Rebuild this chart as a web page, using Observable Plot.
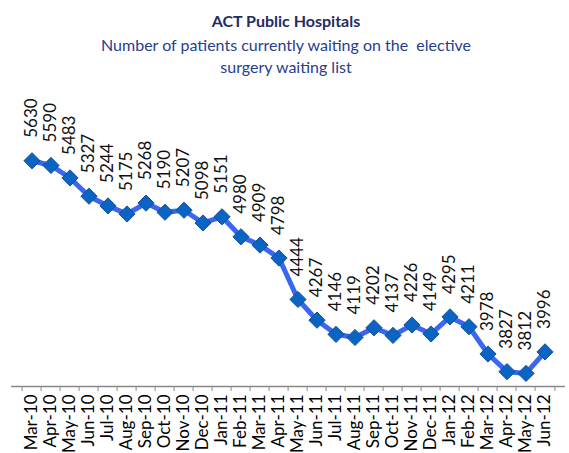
<!DOCTYPE html>
<html><head><meta charset="utf-8">
<script src="https://cdn.jsdelivr.net/npm/d3@7"></script>
<script src="https://cdn.jsdelivr.net/npm/@observablehq/plot@0.6"></script>
<style>
body{margin:0;background:#fff;font-family:Lato,sans-serif;}
#wrap{width:569px;height:453px;overflow:hidden;background:#fff;}
#hdr{height:80px;text-align:center;}
#hdr .t{padding-top:10px;line-height:22px;font-size:16px;font-weight:bold;color:#1f2d63;padding-left:3px;}
#hdr .s{margin-top:2px;line-height:22px;font-size:16px;color:#25408f;padding-left:3px;}
</style></head><body>
<div id="wrap">
<div id="hdr">
 <div class="t">ACT Public Hospitals</div>
 <div class="s">Number of patients currently waiting on the&nbsp; elective<br>surgery waiting list</div>
</div>
<div id="chart"></div>
</div>
<script>
const months = ["Mar-10","Apr-10","May-10","Jun-10","Jul-10","Aug-10","Sep-10","Oct-10","Nov-10","Dec-10",
"Jan-11","Feb-11","Mar-11","Apr-11","May-11","Jun-11","Jul-11","Aug-11","Sep-11","Oct-11","Nov-11","Dec-11",
"Jan-12","Feb-12","Mar-12","Apr-12","May-12","Jun-12"];
const values = [5630,5590,5483,5327,5244,5175,5268,5190,5207,5098,
5151,4980,4909,4798,4444,4267,4146,4119,4202,4137,4226,4149,
4295,4211,3978,3827,3812,3996];
const data = months.map((m, i) => ({month: m, value: values[i]}));
const W = 569, H = 373, mL = 11, mR = 4;
const bw = (W - mL - mR) / months.length;
const plot = Plot.plot({
  width: W, height: H,
  marginLeft: mL, marginRight: mR, marginTop: 37, marginBottom: 67,
  style: {fontFamily: "Lato, sans-serif", fontSize: "16px", background: "white", overflow: "visible"},
  x: {type: "band", domain: months, padding: 0, label: null},
  y: {domain: [3700, 6000], axis: null},
  marks: [
    Plot.ruleY([3700], {stroke: "#898989", strokeWidth: 1.3}),
    Plot.axisX({tickSize: 5, tickFormat: () => "", dx: -bw / 2, stroke: "#898989", label: null}),
    Plot.axisX(["Jun-12"], {tickSize: 5, tickFormat: () => "", dx: bw / 2, stroke: "#898989", label: null}),
    Plot.axisX({tickSize: 0, tickPadding: 8, tickRotate: -90, fill: "#000", fontSize: 17, label: null}),
    Plot.line(data, {x: "month", y: "value", stroke: "#3a66f0", strokeWidth: 5}),
    Plot.dot(data, {x: "month", y: "value", symbol: "diamond2", r: 7.3, fill: "#0a64c4", stroke: "#174f96", strokeWidth: 1}),
    Plot.text(data, {x: "month", y: "value", text: d => String(d.value), rotate: -90, textAnchor: "start", dy: -23, fontSize: 17, fill: "#111"})
  ]
});
document.getElementById("chart").appendChild(plot);
</script>
</body></html>
